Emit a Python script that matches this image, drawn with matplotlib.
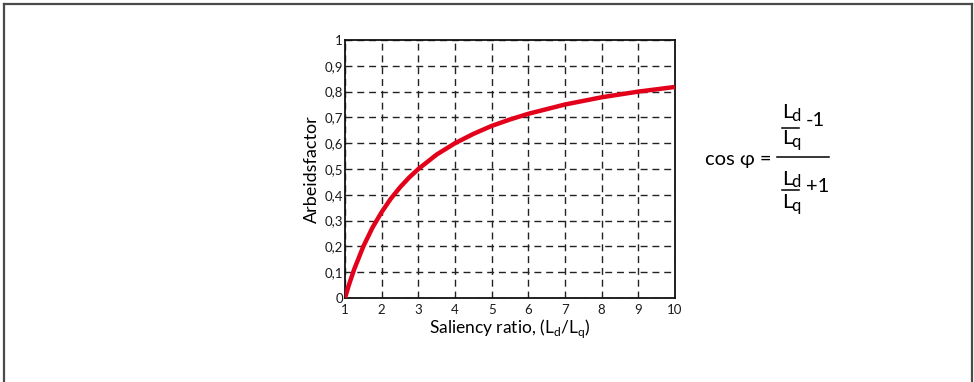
import matplotlib
matplotlib.use("Agg")
import matplotlib.pyplot as plt
from matplotlib.lines import Line2D

plt.rcParams['font.family'] = ['Lato', 'DejaVu Sans']
plt.rcParams['mathtext.fontset'] = 'custom'
plt.rcParams['mathtext.rm'] = 'Lato'

# data
saliency = [1.0, 1.1, 1.25, 1.5, 1.75, 2.0, 2.25, 2.5, 2.75, 3.0, 3.5, 4.0, 4.5, 5.0, 5.5, 6.0, 7.0, 8.0, 9.0, 10.0]
power_factor = [0.0, 0.048, 0.111, 0.200, 0.273, 0.333, 0.385, 0.429, 0.467, 0.500, 0.556, 0.600, 0.636, 0.667, 0.692, 0.714, 0.750, 0.778, 0.800, 0.818]
x_ticks = [1, 2, 3, 4, 5, 6, 7, 8, 9, 10]
y_ticks = [0, 0.1, 0.2, 0.3, 0.4, 0.5, 0.6, 0.7, 0.8, 0.9, 1.0]
y_tick_labels = ['0', '0,1', '0,2', '0,3', '0,4', '0,5', '0,6', '0,7', '0,8', '0,9', '1']

W, H = 974, 382
fig = plt.figure(figsize=(W / 100, H / 100), dpi=100)
left, right, top, bottom = 345, 675, 40, 298
ax = fig.add_axes([left / W, 1 - bottom / H, (right - left) / W, (bottom - top) / H])

ax.set_xlim(1, 10)
ax.set_ylim(0, 1)
ax.set_xticks(x_ticks)
ax.set_yticks(y_ticks)
ax.set_yticklabels(y_tick_labels)
ax.tick_params(axis='y', length=0, labelsize=9.5, pad=1.5, colors='#1a1a1a')
ax.tick_params(axis='x', length=0, labelsize=9.5, pad=4, colors='#1a1a1a')
ax.grid(True, color='#222222', linestyle=(0, (5, 3.5)), linewidth=1.0)
ax.set_axisbelow(True)
for s in ax.spines.values():
    s.set_linewidth(1.3)
    s.set_color('#111111')

ax.plot(saliency, power_factor, color='#e3001b', linewidth=3.2, solid_capstyle='butt', zorder=3)

ax.set_xlabel(r'Saliency ratio, (L$_\mathregular{d}$/L$_\mathregular{q}$)', fontsize=12.5, labelpad=1)
ax.set_ylabel('Arbeidsfactor', fontsize=13, labelpad=3)


def fx(px):
    return px / W


def fy(py):
    return 1 - py / H


fs = 14.5
sub = 12
fig.text(fx(705), fy(160), 'cos φ =', fontsize=fs, va='center', ha='left')
fig.add_artist(Line2D([fx(777), fx(829)], [fy(157), fy(157)], color='black', linewidth=1.1))


def lsub(xp, yp, s):
    fig.text(fx(xp), fy(yp), 'L', fontsize=fs, va='center', ha='left')
    fig.text(fx(xp + 9), fy(yp + 3), s, fontsize=sub, va='center', ha='left')


# numerator
lsub(782, 113, 'd')
fig.add_artist(Line2D([fx(782), fx(799)], [fy(128), fy(128)], color='black', linewidth=1.1))
lsub(782, 139, 'q')
fig.text(fx(806), fy(121), '-1', fontsize=fs, va='center', ha='left')
# denominator
lsub(782, 179, 'd')
fig.add_artist(Line2D([fx(782), fx(799)], [fy(190), fy(190)], color='black', linewidth=1.1))
lsub(782, 203, 'q')
fig.text(fx(806), fy(187), '+1', fontsize=fs, va='center', ha='left')

# outer frame (left, top, right)
fc = '#4a4a4a'
fig.add_artist(Line2D([fx(3.5), fx(3.5)], [0, fy(3.5)], color=fc, linewidth=1.6))
fig.add_artist(Line2D([fx(3.5), fx(971.5)], [fy(3.5), fy(3.5)], color=fc, linewidth=1.6))
fig.add_artist(Line2D([fx(971.5), fx(971.5)], [0, fy(3.5)], color=fc, linewidth=1.6))

fig.savefig('out.png', dpi=100)
